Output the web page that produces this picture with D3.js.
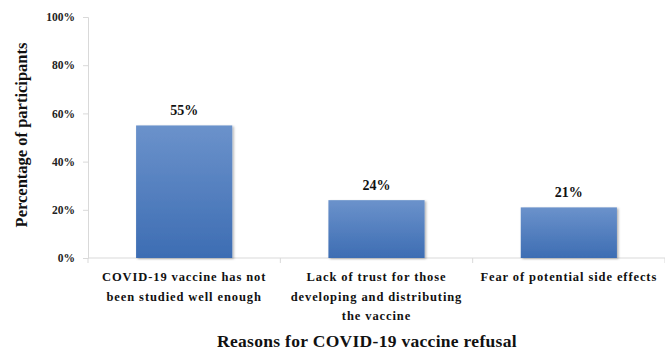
<!DOCTYPE html>
<html>
<head>
<meta charset="utf-8">
<script src="https://cdn.jsdelivr.net/npm/d3@7.9.0/dist/d3.min.js"></script>
<style>
  body { margin: 0; background: #fff; }
  svg { font-family: "Liberation Serif", "Times New Roman", serif; font-weight: bold; }
</style>
</head>
<body>
<svg id="chart" width="665" height="351"></svg>
<script>
// data
const reasons = [
  ['COVID-19 vaccine has not', 'been studied well enough'],
  ['Lack of trust for those', 'developing and distributing', 'the vaccine'],
  ['Fear of potential side effects']
];
const percents = [55, 24, 21];
const yTicks = [0, 20, 40, 60, 80, 100];

const svg = d3.select('#chart');
const mLeft = 88, mRight = 665, mTop = 17, mBottom = 258;

const x = d3.scaleBand()
  .domain(d3.range(reasons.length))
  .range([mLeft, mRight])
  .paddingInner(0.5)
  .paddingOuter(0.25);

const xb = d3.scaleBand().domain(d3.range(reasons.length)).range([mLeft, mRight]);

const y = d3.scaleLinear().domain([0, 100]).range([mBottom, mTop]);

// gradient for bars
const defs = svg.append('defs');
const grad = defs.append('linearGradient')
  .attr('id', 'barGrad').attr('x1', 0).attr('y1', 0).attr('x2', 0).attr('y2', 1);
grad.append('stop').attr('offset', '0%').attr('stop-color', '#6b92cb');
grad.append('stop').attr('offset', '100%').attr('stop-color', '#3d6db3');

const shadow = defs.append('filter').attr('id', 'shadow')
  .attr('x', '-10%').attr('y', '-10%').attr('width', '130%').attr('height', '130%');
shadow.append('feDropShadow')
  .attr('dx', 1.5).attr('dy', 1).attr('stdDeviation', 1.2)
  .attr('flood-color', '#000').attr('flood-opacity', 0.3);

// y axis
const yAxis = svg.append('g')
  .attr('transform', `translate(${mLeft},0)`)
  .call(d3.axisLeft(y).tickValues(yTicks).tickSize(5).tickPadding(8).tickFormat(d => d + '%'));
yAxis.select('.domain').attr('stroke', '#d9d9d9');
yAxis.selectAll('.tick line').attr('stroke', '#d9d9d9');
yAxis.selectAll('.tick text')
  .attr('font-family', '"Liberation Serif", serif')
  .attr('font-weight', 'bold')
  .attr('font-size', 11.5)
  .attr('fill', '#222');

// x baseline + boundary ticks
svg.append('line')
  .attr('x1', mLeft).attr('x2', mRight)
  .attr('y1', mBottom).attr('y2', mBottom)
  .attr('stroke', '#d9d9d9');
svg.selectAll('.xtick')
  .data(d3.range(reasons.length + 1))
  .join('line')
  .attr('x1', d => d < reasons.length ? xb(d) : mRight)
  .attr('x2', d => d < reasons.length ? xb(d) : mRight)
  .attr('y1', mBottom).attr('y2', mBottom + 5)
  .attr('stroke', '#d9d9d9');

// bars
svg.selectAll('.bar')
  .data(percents)
  .join('rect')
  .attr('x', (d, i) => x(i))
  .attr('width', x.bandwidth())
  .attr('y', d => y(d))
  .attr('height', d => y(0) - y(d))
  .attr('fill', 'url(#barGrad)')
  .attr('filter', 'url(#shadow)');

// value labels
svg.selectAll('.val')
  .data(percents)
  .join('text')
  .attr('x', (d, i) => x(i) + x.bandwidth() / 2)
  .attr('y', d => y(d) - 10)
  .attr('text-anchor', 'middle')
  .attr('font-size', 14)
  .attr('fill', '#111')
  .text(d => d + '%');

// category labels
reasons.forEach((lines, i) => {
  const t = svg.append('text')
    .attr('text-anchor', 'middle')
    .attr('font-size', 12.5)
    .attr('letter-spacing', 0.9)
    .attr('fill', '#111');
  lines.forEach((ln, j) => {
    t.append('tspan')
      .attr('x', x(i) + x.bandwidth() / 2)
      .attr('y', 281 + j * 19.5)
      .text(ln);
  });
});

// axis titles
svg.append('text')
  .attr('x', 367).attr('y', 347)
  .attr('text-anchor', 'middle')
  .attr('font-size', 17.5)
  .attr('letter-spacing', 0.3)
  .attr('fill', '#111')
  .text('Reasons for COVID-19 vaccine refusal');

svg.append('text')
  .attr('transform', 'translate(27,135) rotate(-90)')
  .attr('text-anchor', 'middle')
  .attr('font-size', 16.5)
  .attr('fill', '#111')
  .text('Percentage of participants');
</script>
</body>
</html>
